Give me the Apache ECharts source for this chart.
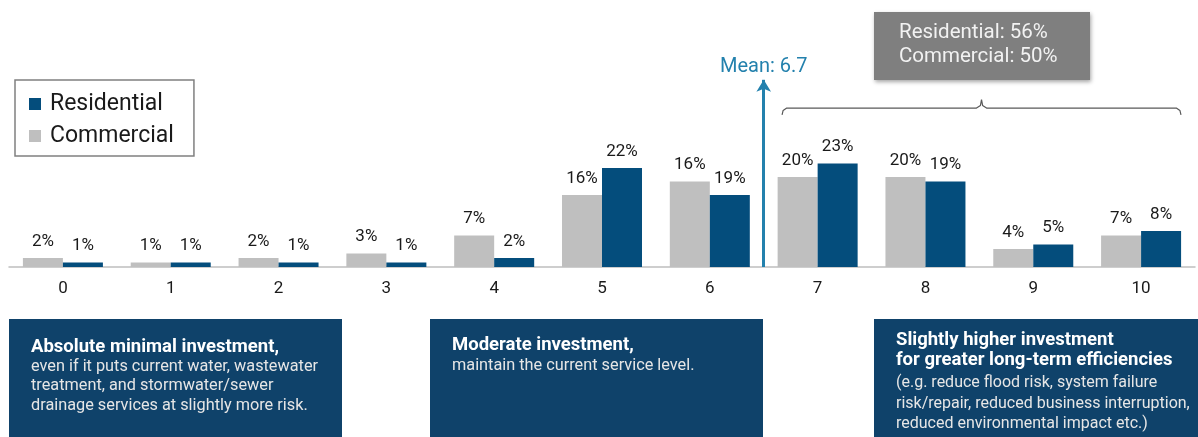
<!DOCTYPE html>
<html>
<head>
<meta charset="utf-8">
<script src="https://cdn.jsdelivr.net/npm/echarts@6/dist/echarts.min.js"></script>
<style>
  html, body { margin: 0; padding: 0; background: #fff; }
  #chart { width: 1198px; height: 437px; }
</style>
</head>
<body>
<div id="chart"></div>
<script>
// puntuaciones 0-10 y porcentaje de respuestas
const scores = ['0', '1', '2', '3', '4', '5', '6', '7', '8', '9', '10'];
const commercial = [2, 1, 2, 3, 7, 16, 19, 20, 20, 4, 7];
const residential = [1, 1, 1, 1, 2, 22, 16, 23, 19, 5, 8];
// etiquetas tal como aparecen impresas sobre las barras
const commercialLabels = ['2%', '1%', '2%', '3%', '7%', '16%', '16%', '20%', '20%', '4%', '7%'];
const residentialLabels = ['1%', '1%', '1%', '1%', '2%', '22%', '19%', '23%', '19%', '5%', '8%'];

const meanScore = 6.7;
const braceFrom = 7;
const braceTo = 10;
const summaryLines = ['Residential: 56%', 'Commercial: 50%'];

const boxTitles = [
    'Absolute minimal investment,',
    'Moderate investment,',
    'Slightly higher investment\nfor greater long-term efficiencies'
];
const boxBodies = [
    'even if it puts current water, wastewater\ntreatment, and stormwater/sewer\ndrainage services at slightly more risk.',
    'maintain the current service level.',
    '(e.g. reduce flood risk, system failure\nrisk/repair, reduced business interruption,\nreduced environmental impact etc.)'
];

const FONT = 'Roboto';
const BLUE = '#044d7c';
const GRAY = '#bfbfbf';
const BOX = '#0f426a';
const TEAL = '#2381ad';

const chart = echarts.init(document.getElementById('chart'));

// llave sobre las categorias 7-10 (en unidades del eje)
const bl = braceFrom - 0.33, br = braceTo + 0.37, bm = (bl + br) / 2;
const braceY = 35.3;
const brace = [
    [bl, 33.8], [bl + 0.01, 34.8], [bl + 0.04, braceY],
    [bm - 0.05, braceY], [bm - 0.01, braceY + 0.6], [bm, braceY + 1.9],
    [bm + 0.01, braceY + 0.6], [bm + 0.05, braceY],
    [br - 0.04, braceY], [br - 0.01, 34.8], [br, 33.8]
];
const meanPos = Math.floor(meanScore) + 0.5;

// cajas de texto inferiores
const boxes = [
    { x: 9, w: 333, tx: 31, titleTop: 337, titleLH: 20, bodyTop: 357, bodyLH: 19.5, bodySize: 16.3 },
    { x: 430, w: 333, tx: 452, titleTop: 335, titleLH: 20, bodyTop: 356, bodyLH: 19.5, bodySize: 16.3 },
    { x: 874, w: 324, tx: 896, titleTop: 331, titleLH: 19.5, bodyTop: 373, bodyLH: 20.5, bodySize: 16 }
];
const graphics = [];
boxes.forEach((b, i) => {
    graphics.push({
        type: 'rect', left: b.x, top: 319, silent: true,
        shape: { width: b.w, height: 118 },
        style: { fill: BOX }
    });
    graphics.push({
        type: 'text', x: b.tx, y: b.titleTop, silent: true,
        style: {
            text: boxTitles[i], fill: '#ffffff',
            font: 'bold 18.5px ' + FONT, lineHeight: b.titleLH
        }
    });
    graphics.push({
        type: 'text', x: b.tx, y: b.bodyTop, silent: true,
        style: {
            text: boxBodies[i], fill: '#e6e6e6',
            font: b.bodySize + 'px ' + FONT, lineHeight: b.bodyLH
        }
    });
});
// recuadro gris con el resumen
graphics.push({
    type: 'rect', left: 874, top: 12, silent: true,
    shape: { width: 216, height: 68 },
    style: {
        fill: '#7f7f7f', shadowBlur: 4, shadowOffsetX: 1, shadowOffsetY: 2,
        shadowColor: 'rgba(0,0,0,0.35)'
    }
});
graphics.push({
    type: 'text', x: 899, y: 21, silent: true,
    style: {
        text: summaryLines.join('\n'), fill: '#f2f2f2',
        font: '20.5px ' + FONT, lineHeight: 24
    }
});

const option = {
    animation: false,
    textStyle: { fontFamily: FONT },
    grid: { left: 9, right: 3, top: 64.5, bottom: 170 },
    legend: {
        data: ['Residential', 'Commercial'],
        orient: 'vertical',
        left: 15,
        top: 80,
        padding: [11, 20, 7, 14],
        borderColor: '#808080',
        borderWidth: 1.5,
        itemWidth: 12,
        itemHeight: 12,
        itemGap: 6,
        icon: 'rect',
        selectedMode: false,
        textStyle: { fontSize: 23, lineHeight: 26, color: '#1a1a1a', padding: [0, 0, 0, 4], fontFamily: FONT }
    },
    xAxis: [
        {
            type: 'category',
            data: scores,
            axisLine: { lineStyle: { color: '#bfbfbf', width: 1.5 } },
            axisTick: { show: false },
            axisLabel: { fontSize: 17, color: '#1a1a1a', margin: 13, fontFamily: FONT }
        },
        { type: 'value', min: -0.5, max: 10.5, show: false }
    ],
    yAxis: { type: 'value', min: 0, max: 45, show: false, splitLine: { show: false } },
    series: [
        {
            name: 'Commercial', type: 'bar', data: commercial,
            barWidth: 40, barGap: '0%',
            itemStyle: { color: GRAY },
            label: {
                show: true, position: 'top', distance: 8, fontSize: 17, color: '#1a1a1a',
                formatter: p => commercialLabels[p.dataIndex]
            }
        },
        {
            name: 'Residential', type: 'bar', data: residential,
            barWidth: 40, barGap: '0%',
            itemStyle: { color: BLUE },
            label: {
                show: true, position: 'top', distance: 8, fontSize: 17, color: '#1a1a1a',
                formatter: p => residentialLabels[p.dataIndex]
            }
        },
        {
            name: 'brace', type: 'line', xAxisIndex: 1, data: brace,
            symbol: 'none', silent: true,
            lineStyle: { color: '#595959', width: 1.2 },
            markLine: {
                silent: true,
                symbol: ['none', 'arrow'],
                symbolSize: [11, 12],
                lineStyle: { color: TEAL, width: 3, type: 'solid' },
                label: {
                    position: 'end', distance: 3, fontSize: 20, color: TEAL,
                    fontFamily: FONT, formatter: 'Mean: ' + meanScore
                },
                data: [[{ coord: [meanPos, 0] }, { coord: [meanPos, 41.6] }]]
            }
        }
    ],
    graphic: graphics
};

chart.setOption(option);
</script>
</body>
</html>
